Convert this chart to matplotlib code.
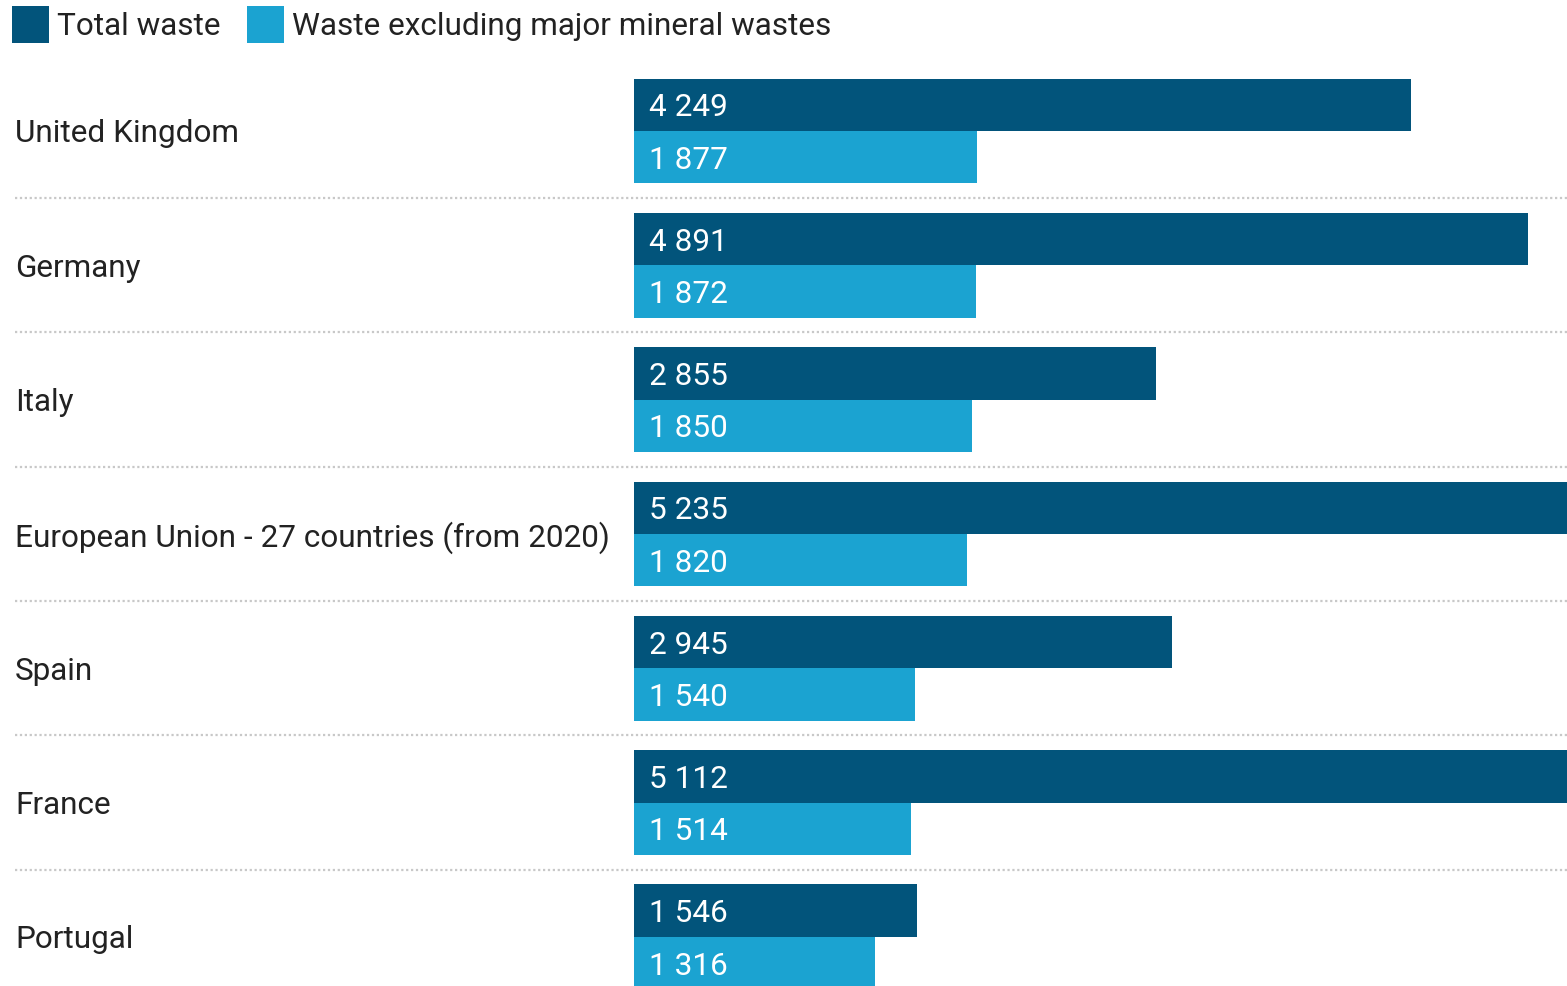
import matplotlib.pyplot as plt
import matplotlib.transforms as mtransforms
from matplotlib.lines import Line2D
from matplotlib.patches import Patch

plt.rcParams["font.family"] = ["Roboto", "DejaVu Sans"]

countries = [
    "United Kingdom",
    "Germany",
    "Italy",
    "European Union - 27 countries (from 2020)",
    "Spain",
    "France",
    "Portugal",
]
total_waste = [4249, 4891, 2855, 5235, 2945, 5112, 1546]
excl_mineral = [1877, 1872, 1850, 1820, 1540, 1514, 1316]
series_names = ["Total waste", "Waste excluding major mineral wastes"]

dark = "#02547b"
light = "#1ba3d1"
fs = 22.7

W, H = 1567, 986
fig = plt.figure(figsize=(W / 100, H / 100), dpi=100)
ax = fig.add_axes([634 / W, 0, 1 - 634 / W, 1])

bh = 0.39
idx = range(len(countries))
ax.barh([i - bh / 2 for i in idx], total_waste, height=bh, color=dark, lw=0)
ax.barh([i + bh / 2 for i in idx], excl_mineral, height=bh, color=light, lw=0)

ax.set_xlim(0, 5105)
ax.set_ylim(6.366, -0.975)
ax.axis("off")


def fmt(v):
    return f"{v:,}".replace(",", " ")


off = mtransforms.offset_copy(ax.transData, fig=fig, x=15, y=0, units="dots")
for i in idx:
    ax.text(0, i - bh / 2, fmt(total_waste[i]), transform=off, color="white",
            fontsize=fs, va="center_baseline", ha="left")
    ax.text(0, i + bh / 2, fmt(excl_mineral[i]), transform=off, color="white",
            fontsize=fs, va="center_baseline", ha="left")

# country labels and dotted separators live in figure-x / data-y space
blend = mtransforms.blended_transform_factory(fig.transFigure, ax.transData)
for i, name in enumerate(countries):
    ax.text(15 / W, i, name, transform=blend, fontsize=fs, color="#222222",
            va="center_baseline", ha="left", clip_on=False)
    if i < len(countries) - 1:
        ax.add_line(Line2D([15 / W, 1], [i + 0.5, i + 0.5], transform=blend,
                           color="#c8c8c8", lw=1.6, ls=(0, (1, 1.2)),
                           clip_on=False))

handles = [Patch(facecolor=dark), Patch(facecolor=light)]
fig.legend(handles, series_names, loc="upper left",
           bbox_to_anchor=(-16 / W, 1 + 22 / H), ncol=2, frameon=False,
           fontsize=fs, handlelength=1.15, handleheight=1.42,
           handletextpad=0.27, columnspacing=0.85, labelcolor="#222222")

fig.savefig("out.png", dpi=100)
